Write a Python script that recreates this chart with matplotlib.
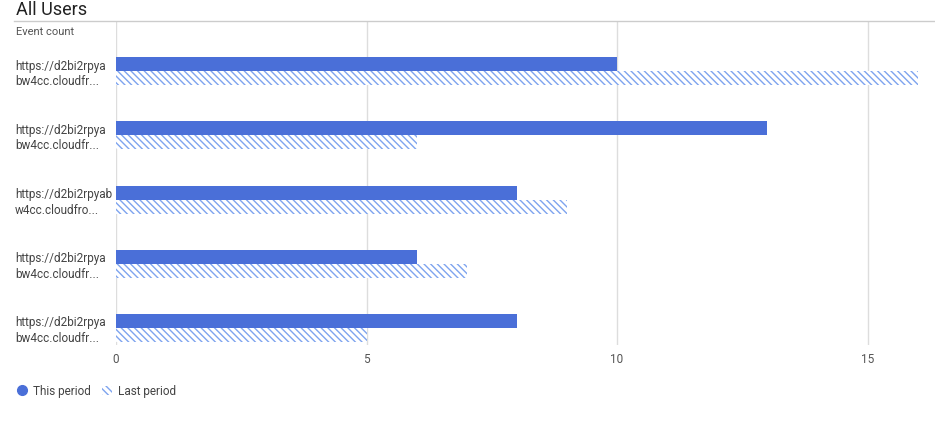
import matplotlib.pyplot as plt
import matplotlib.patches as mpatches
from matplotlib.lines import Line2D
import numpy as np

plt.rcParams['font.family'] = ['Roboto', 'DejaVu Sans']
plt.rcParams['hatch.linewidth'] = 1.0

labels = ['https://d2bi2rpya\nbw4cc.cloudfr...', 'https://d2bi2rpya\nbw4cc.cloudfr...',
          'https://d2bi2rpyab\nw4cc.cloudfro...', 'https://d2bi2rpya\nbw4cc.cloudfr...',
          'https://d2bi2rpya\nbw4cc.cloudfr...']
this_period = [10, 13, 8, 6, 8]
last_period = [16, 6, 9, 7, 5]

blue = '#4a6fd8'
light = '#7ea4ef'

fig = plt.figure(figsize=(9.35, 4.23), dpi=100)
ax = fig.add_axes([116/935, 1-345/423, 1-116/935, (345-22)/423])
y = np.arange(len(labels))
h = 14/64
ax.barh(y - h/2, this_period, height=h, color=blue)
ax.barh(y + h/2, last_period, height=h, color='white', edgecolor=light,
        hatch='\\\\\\\\\\', linewidth=0)
ax.set_ylim(4.27, -0.77)
ax.set_xlim(0, 819/50.1)
ax.set_xticks([0, 5, 10, 15])
ax.set_yticks(y)
ax.set_yticklabels(labels, fontsize=8.5, color='#444444', ha='left', linespacing=1.25)
ax.tick_params(axis='y', length=0, pad=101*0.72)
ax.tick_params(axis='x', length=0, labelsize=8.5, labelcolor='#555555', pad=6)
ax.grid(axis='x', color='#dddddd', linewidth=1)
ax.set_axisbelow(True)
for s in ax.spines.values():
    s.set_visible(False)

fig.text(16/935, 1-10/423, 'All Users', fontsize=13, color='#222222', va='center')
fig.add_artist(Line2D([14/935, 935/935], [1-21/423, 1-21/423], color='#cccccc', lw=1))
fig.text(16/935, 1-32/423, 'Event count', fontsize=8, color='#555555', va='center')

handles = [Line2D([], [], marker='o', color=blue, linestyle='none', markersize=7),
           mpatches.Patch(facecolor='white', edgecolor=light, hatch='\\\\\\\\\\', linewidth=0)]
fig.legend(handles, ['This period', 'Last period'], loc='center left',
           bbox_to_anchor=(6/935, 1-391/423), ncol=2, frameon=False,
           fontsize=8.5, handlelength=0.9, handleheight=0.9, columnspacing=0.9,
           handletextpad=0.5, labelcolor='#444444')
fig.savefig('out.png', dpi=100)
